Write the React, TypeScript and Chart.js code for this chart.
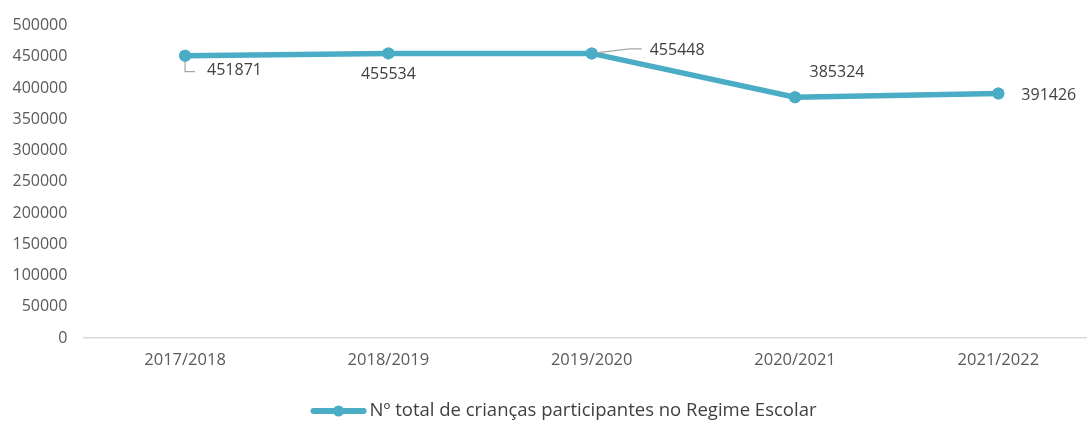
import React, { useEffect, useRef } from 'react';
import { Chart, registerables } from 'chart.js';

Chart.register(...registerables);

const categories = ['2017/2018', '2018/2019', '2019/2020', '2020/2021', '2021/2022'];
const values = [451871, 455534, 455448, 385324, 391426];
const seriesLabel = 'Nº total de crianças participantes no Regime Escolar';
const yMin = 0;
const yMax = 500000;
const yStep = 50000;

const FONT = '"Open Sans", "Noto Sans", sans-serif';
const LINE_COLOR = '#4BACC6';
const TEXT_COLOR = '#404040';
const TICK_COLOR = '#595959';
const LEADER_COLOR = '#a6a6a6';

// label placement relative to each point (style/layout only)
const labelPlacement = [
  { dx: 22, dy: 15, align: 'left', leader: [[0, 0], [0, 16], [10, 16]] },
  { dx: 0, dy: 21, align: 'center', leader: null },
  { dx: 58, dy: -3, align: 'left', leader: [[0, 0], [38, -4.5], [50, -4.5]] },
  { dx: 42, dy: -24.5, align: 'center', leader: null },
  { dx: 23, dy: 2, align: 'left', leader: null },
];

const dataLabelPlugin = {
  id: 'dataLabels',
  afterDatasetsDraw(chart: any) {
    const ctx = chart.ctx;
    const meta = chart.getDatasetMeta(0);
    ctx.save();
    meta.data.forEach((pt: any, i: number) => {
      const p = labelPlacement[i];
      if (p.leader) {
        ctx.strokeStyle = LEADER_COLOR;
        ctx.lineWidth = 1.2;
        ctx.beginPath();
        p.leader.forEach(([lx, ly]: number[], k: number) => {
          if (k === 0) ctx.moveTo(pt.x + lx, pt.y + ly);
          else ctx.lineTo(pt.x + lx, pt.y + ly);
        });
        ctx.stroke();
      }
    });
    meta.data.forEach((pt: any) => {
      ctx.fillStyle = LINE_COLOR;
      ctx.beginPath();
      ctx.arc(pt.x, pt.y, 6, 0, Math.PI * 2);
      ctx.fill();
    });
    ctx.font = `16px ${FONT}`;
    ctx.fillStyle = TEXT_COLOR;
    ctx.textBaseline = 'middle';
    meta.data.forEach((pt: any, i: number) => {
      const p = labelPlacement[i];
      ctx.textAlign = p.align;
      ctx.fillText(String(values[i]), pt.x + p.dx, pt.y + p.dy);
    });
    ctx.restore();
  },
};

const legendPlugin = {
  id: 'customLegend',
  afterDraw(chart: any) {
    const ctx = chart.ctx;
    ctx.save();
    ctx.font = `18.5px ${FONT}`;
    const tw = ctx.measureText(seriesLabel).width;
    const lineLen = 56;
    const gap = 3;
    const total = lineLen + gap + tw;
    const cx = 563.5;
    const x0 = cx - total / 2;
    const y = 411;
    ctx.strokeStyle = LINE_COLOR;
    ctx.lineWidth = 6;
    ctx.lineCap = 'round';
    ctx.beginPath();
    ctx.moveTo(x0 + 3, y);
    ctx.lineTo(x0 + lineLen - 3, y);
    ctx.stroke();
    ctx.fillStyle = LINE_COLOR;
    ctx.beginPath();
    ctx.arc(x0 + lineLen / 2, y, 5.5, 0, Math.PI * 2);
    ctx.fill();
    ctx.fillStyle = TEXT_COLOR;
    ctx.textAlign = 'left';
    ctx.textBaseline = 'middle';
    ctx.fillText(seriesLabel, x0 + lineLen + gap, y);
    ctx.restore();
  },
};

export default function App() {
  const ref = useRef<HTMLCanvasElement | null>(null);
  useEffect(() => {
    document.body.style.margin = '0';
    document.body.style.overflow = 'hidden';
    const chart = new Chart(ref.current as HTMLCanvasElement, {
      type: 'line',
      data: {
        labels: categories,
        datasets: [
          {
            label: seriesLabel,
            data: values,
            borderColor: LINE_COLOR,
            backgroundColor: LINE_COLOR,
            borderWidth: 5.5,
            pointRadius: 6,
            pointHoverRadius: 6,
            pointBackgroundColor: LINE_COLOR,
            pointBorderWidth: 0,
            tension: 0,
          },
        ],
      },
      options: {
        responsive: false,
        animation: false,
        layout: { padding: { top: 22, right: 30, bottom: 33, left: 0 } },
        plugins: {
          legend: { display: false },
          tooltip: { enabled: false },
        },
        scales: {
          x: {
            type: 'category',
            offset: true,
            grid: { display: false, drawTicks: false },
            border: { display: true, color: '#d9d9d9', width: 1.5 },
            ticks: {
              color: TICK_COLOR,
              font: { family: FONT, size: 16.5 },
              padding: 12,
              maxRotation: 0,
            },
            afterFit(scale: any) {
              scale.height = 50;
            },
          },
          y: {
            min: yMin,
            max: yMax,
            grid: { display: false, drawTicks: false },
            border: { display: false },
            ticks: {
              stepSize: yStep,
              color: TICK_COLOR,
              font: { family: FONT, size: 16 },
              padding: 16,
              callback: (v: any) => String(v),
            },
            afterFit(scale: any) {
              scale.width = 83.4;
            },
          },
        },
      },
      plugins: [dataLabelPlugin, legendPlugin],
    } as any);
    return () => chart.destroy();
  }, []);
  return (
    <div style={{ position: 'fixed', left: 0, top: 0, width: 1130, height: 421, background: '#fff' }}>
      <canvas ref={ref} width={1130} height={421} style={{ width: 1130, height: 421 }} />
    </div>
  );
}
